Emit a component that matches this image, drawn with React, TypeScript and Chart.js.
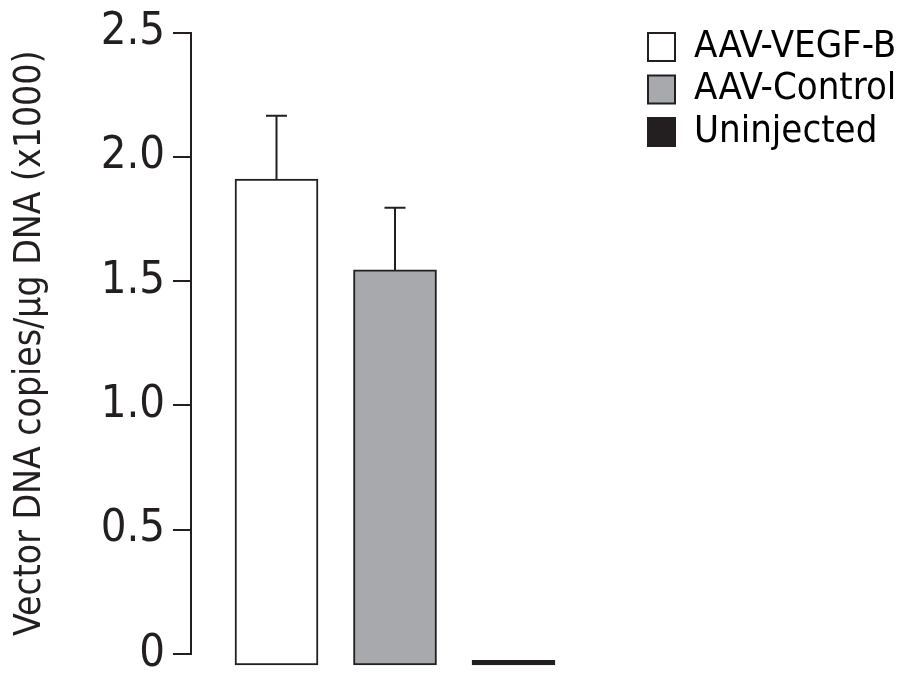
import React, { useEffect, useRef } from 'react';
import { Chart, registerables } from 'chart.js';

Chart.register(...registerables);

// ---- data ----
const CATEGORIES = ['AAV-VEGF-B', 'AAV-Control', 'Uninjected'];
const X_POS = [1, 2, 3];
const MEANS = [1.91, 1.545, -0.025];
const ERRORS = [0.255, 0.25, 0];
const BAR_BASE = -0.044;
const Y_TICKS = [0, 0.5, 1.0, 1.5, 2.0, 2.5];
const Y_TICK_LABELS = ['0', '0.5', '1.0', '1.5', '2.0', '2.5'];
const Y_TITLE = 'Vector DNA copies/\u00b5g DNA (x1000)';
const FILLS = ['#ffffff', '#a7a9ac', '#231f20'];

// ---- style ----
const INK = '#231f20';
const FAMILY = '"DejaVu Sans Condensed", "DejaVu Sans", sans-serif';
const W = 897;
const H = 673;
const AREA_LEFT = 191;
const FIRST_BAR_CENTER = 276.5;
const BAR_PITCH = 118.5;
const LEGEND_BOX_LEFT = 648;
const LEGEND_FONT = 38;
const LEGEND_BOX_W = 27;
const LEGEND_BOX_H = 28;
const LEGEND_PAD = 4.5;
const TITLE_OFFSET = 8;

const errorBars = {
  id: 'errorBars',
  afterDatasetsDraw(chart: any) {
    const meta = chart.getDatasetMeta(0);
    const y = chart.scales.y;
    const ctx = chart.ctx;
    ctx.save();
    ctx.strokeStyle = INK;
    ctx.lineWidth = 2;
    meta.data.forEach((el: any, i: number) => {
      if (!ERRORS[i]) return;
      const top = y.getPixelForValue(MEANS[i] + ERRORS[i]);
      ctx.beginPath();
      ctx.moveTo(el.x, el.y);
      ctx.lineTo(el.x, top);
      ctx.moveTo(el.x - 10.5, top);
      ctx.lineTo(el.x + 10.5, top);
      ctx.stroke();
    });
    ctx.restore();
  },
};

export default function App() {
  const ref = useRef<HTMLCanvasElement>(null);

  useEffect(() => {
    const canvas = ref.current!;
    const mctx = canvas.getContext('2d')!;
    mctx.font = `${LEGEND_FONT}px ${FAMILY}`;
    const textW = Math.max(...CATEGORIES.map((c) => mctx.measureText(c).width));
    const legendW = LEGEND_PAD + LEGEND_BOX_W + LEGEND_FONT / 2 + textW + 10;
    const legendLeft = LEGEND_BOX_LEFT - LEGEND_PAD;
    const padRight = W - legendLeft - legendW;
    // widen the layout's available width so the legend is not capped at 1/4 of it
    const padLeft = -Math.max(0, Math.ceil(4 * legendW - W + padRight + 10));
    const areaRight = legendLeft;
    const xMin = X_POS[0] - (FIRST_BAR_CENTER - AREA_LEFT) / BAR_PITCH;
    const xMax = xMin + (areaRight - AREA_LEFT) / BAR_PITCH;

    Chart.defaults.font.family = FAMILY;
    Chart.defaults.color = INK;

    const chart = new Chart(canvas, {
      type: 'bar',
      data: {
        datasets: [
          {
            data: X_POS.map((x, i) => ({ x, y: MEANS[i] })),
            base: BAR_BASE,
            backgroundColor: FILLS,
            borderColor: INK,
            borderWidth: 2,
            borderSkipped: false,
            barThickness: 83,
            clip: false,
          } as any,
        ],
      },
      options: {
        animation: false,
        responsive: false,
        events: [],
        layout: { padding: { top: 23.5, bottom: 19, left: padLeft, right: padRight } },
        scales: {
          x: {
            type: 'linear',
            display: false,
            offset: false,
            min: xMin,
            max: xMax,
          },
          y: {
            min: 0,
            max: 2.5,
            afterFit: (scale: any) => {
              scale.width = AREA_LEFT - padLeft;
            },
            ticks: {
              stepSize: 0.5,
              padding: 8,
              color: INK,
              font: { size: 45, lineHeight: 0.4, family: FAMILY },
              callback: (v: any) => {
                const i = Y_TICKS.indexOf(Number(v));
                return i >= 0 ? Y_TICK_LABELS[i] : '';
              },
            },
            grid: {
              display: true,
              drawOnChartArea: false,
              drawTicks: true,
              tickLength: 18,
              color: INK,
              lineWidth: 2,
            },
            border: { display: true, color: INK, width: 2 },
            title: {
              display: true,
              text: Y_TITLE,
              color: INK,
              font: { size: 37, family: FAMILY },
              padding: { top: TITLE_OFFSET - padLeft, bottom: 0 },
            },
          },
        },
        plugins: {
          title: {
            display: true,
            text: '',
            font: { size: 5, lineHeight: 1 },
            padding: { top: 0, bottom: 4 },
          },
          tooltip: { enabled: false },
          legend: {
            display: true,
            position: 'right',
            align: 'start',
            labels: {
              boxWidth: LEGEND_BOX_W,
              boxHeight: LEGEND_BOX_H,
              padding: LEGEND_PAD,
              color: INK,
              font: { size: LEGEND_FONT, family: FAMILY },
              generateLabels: () =>
                CATEGORIES.map((text, i) => ({
                  text,
                  fillStyle: FILLS[i],
                  strokeStyle: INK,
                  lineWidth: 2,
                  hidden: false,
                  index: i,
                  datasetIndex: 0,
                })),
            },
          },
        },
      } as any,
      plugins: [errorBars],
    });
    return () => chart.destroy();
  }, []);

  return (
    <div style={{ position: 'absolute', left: 0, top: 0, width: W, height: H }}>
      <canvas ref={ref} width={W} height={H} style={{ display: 'block' }} />
    </div>
  );
}
